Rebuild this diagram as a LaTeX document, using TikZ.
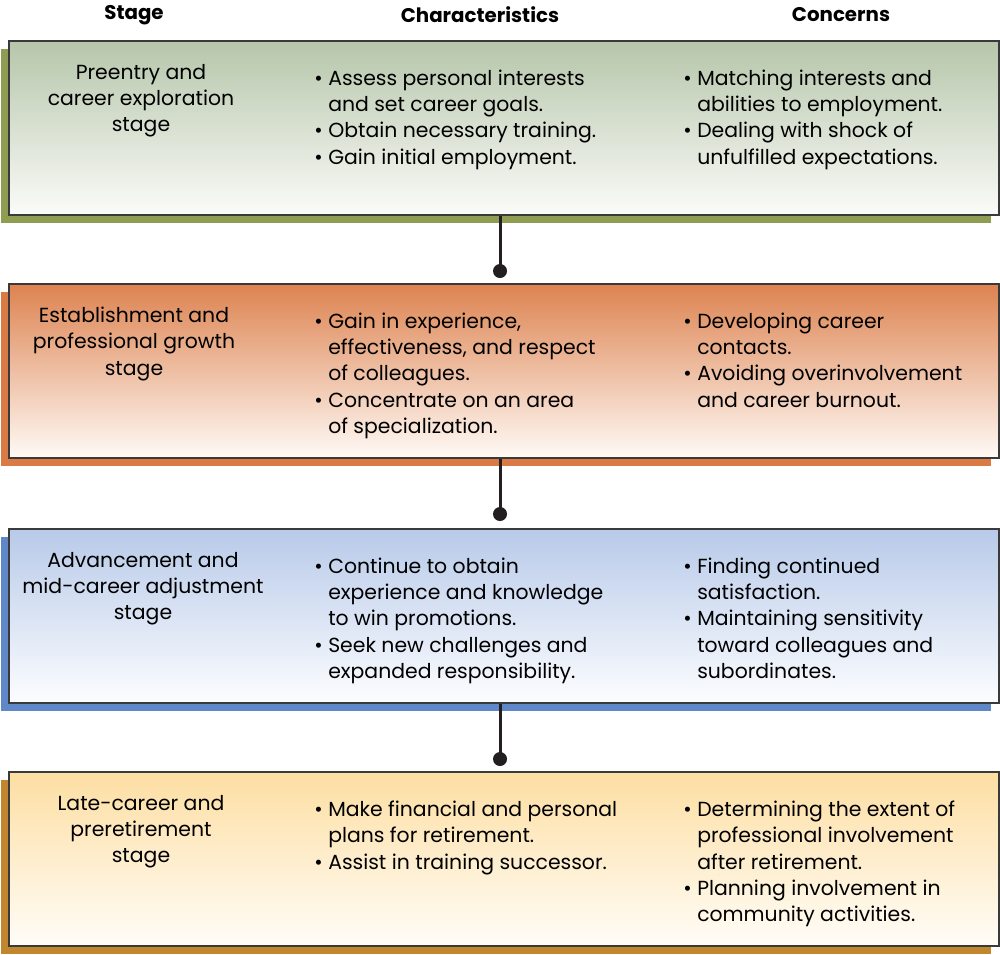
\documentclass[tikz,border=0pt]{standalone}
\usepackage{fontspec}
\setmainfont{Poppins}
\usetikzlibrary{positioning,shadows}

\definecolor{boxline}{HTML}{3A3A3A}
\definecolor{grntop}{HTML}{B6C6AA}
\definecolor{grnbot}{HTML}{FBFBF9}
\definecolor{grnshd}{HTML}{8E9D52}
\definecolor{orgtop}{HTML}{DD8350}
\definecolor{orgbot}{HTML}{FFFAF6}
\definecolor{orgshd}{HTML}{DA7A45}
\definecolor{blutop}{HTML}{B8CAE9}
\definecolor{blubot}{HTML}{FCFDFF}
\definecolor{blushd}{HTML}{6088C8}
\definecolor{goltop}{HTML}{FDDEA2}
\definecolor{golbot}{HTML}{FFFDF8}
\definecolor{golshd}{HTML}{C2862E}
\definecolor{linkcol}{HTML}{231F20}

\tikzset{
  stagebox/.style={rectangle, draw=boxline, line width=1pt, inner sep=0pt,
    minimum width=495pt, minimum height=87pt, anchor=north west,
    general shadow={fill=#1, shadow xshift=-4pt, shadow yshift=-4pt}},
  head/.style={font=\fontsize{9.9}{12}\selectfont\bfseries, inner sep=0pt},
  stagetxt/.style={align=center, inner sep=0pt, anchor=north},
  listtxt/.style={align=left, inner sep=0pt, anchor=north west},
  dot/.style={circle, fill=linkcol, inner sep=0pt, minimum size=7pt},
  link/.style={draw=linkcol, line width=1.5pt}
}

\newcommand{\bl}{\textbullet\ }
\newcommand{\ind}{\hphantom{\textbullet\ }}

\begin{document}
\begin{tikzpicture}[x=0.5pt, y=-0.5pt, font=\fontsize{10.2}{13.2}\selectfont]
\useasboundingbox (0,0) rectangle (1000,954);

\node[head] (hStage) at (134,15) {Stage};
\node[head] (hChar) at (480,15) {Characteristics};
\node[head] (hConc) at (841,15) {Concerns};

\node[stagebox=grnshd, top color=grntop, bottom color=grnbot] (b1) at (8,40) {};
\node[stagebox=orgshd, top color=orgtop, bottom color=orgbot] (b2) at (8,283) {};
\node[stagebox=blushd, top color=blutop, bottom color=blubot] (b3) at (8,528) {};
\node[stagebox=golshd, top color=goltop, bottom color=golbot] (b4) at (8,771) {};

% stage 1
\node[stagetxt] (s1) at ([shift={(66.5pt,-11.8pt)}]b1.north west)
  {Preentry and\\career exploration\\stage};
\node[listtxt] (c1) at ([shift={(153pt,-14.6pt)}]b1.north west)
  {\bl Assess personal interests\\\ind and set career goals.\\\bl Obtain necessary training.\\\bl Gain initial employment.};
\node[listtxt] (k1) at ([shift={(337.5pt,-14.6pt)}]b1.north west)
  {\bl Matching interests and\\\ind abilities to employment.\\\bl Dealing with shock of\\\ind unfulfilled expectations.};

% stage 2
\node[stagetxt] (s2) at ([shift={(63pt,-11.8pt)}]b2.north west)
  {Establishment and\\professional growth\\stage};
\node[listtxt] (c2) at ([shift={(153pt,-14.6pt)}]b2.north west)
  {\bl Gain in experience,\\\ind effectiveness, and respect\\\ind of colleagues.\\\bl Concentrate on an area\\\ind of specialization.};
\node[listtxt] (k2) at ([shift={(337.5pt,-14.6pt)}]b2.north west)
  {\bl Developing career\\\ind contacts.\\\bl Avoiding overinvolvement\\\ind and career burnout.};

% stage 3
\node[stagetxt] (s3) at ([shift={(67.5pt,-11.8pt)}]b3.north west)
  {Advancement and\\mid-career adjustment\\stage};
\node[listtxt] (c3) at ([shift={(153pt,-14.6pt)}]b3.north west)
  {\bl Continue to obtain\\\ind experience and knowledge\\\ind to win promotions.\\\bl Seek new challenges and\\\ind expanded responsibility.};
\node[listtxt] (k3) at ([shift={(337.5pt,-14.6pt)}]b3.north west)
  {\bl Finding continued\\\ind satisfaction.\\\bl Maintaining sensitivity\\\ind toward colleagues and\\\ind subordinates.};

% stage 4
\node[stagetxt] (s4) at ([shift={(66.5pt,-11.8pt)}]b4.north west)
  {Late-career and\\preretirement\\stage};
\node[listtxt] (c4) at ([shift={(153pt,-14.6pt)}]b4.north west)
  {\bl Make financial and personal\\\ind plans for retirement.\\\bl Assist in training successor.};
\node[listtxt] (k4) at ([shift={(337.5pt,-14.6pt)}]b4.north west)
  {\bl Determining the extent of\\\ind professional involvement\\\ind after retirement.\\\bl Planning involvement in\\\ind community activities.};

% links between stages
\node[dot] (d1) at ([shift={(-2pt,-27.5pt)}]b1.south) {};
\node[dot] (d2) at ([shift={(-2pt,-27.5pt)}]b2.south) {};
\node[dot] (d3) at ([shift={(-2pt,-27.5pt)}]b3.south) {};
\draw[link] (b1.south -| d1) -- (d1.center);
\draw[link] (b2.south -| d2) -- (d2.center);
\draw[link] (b3.south -| d3) -- (d3.center);
\end{tikzpicture}
\end{document}
